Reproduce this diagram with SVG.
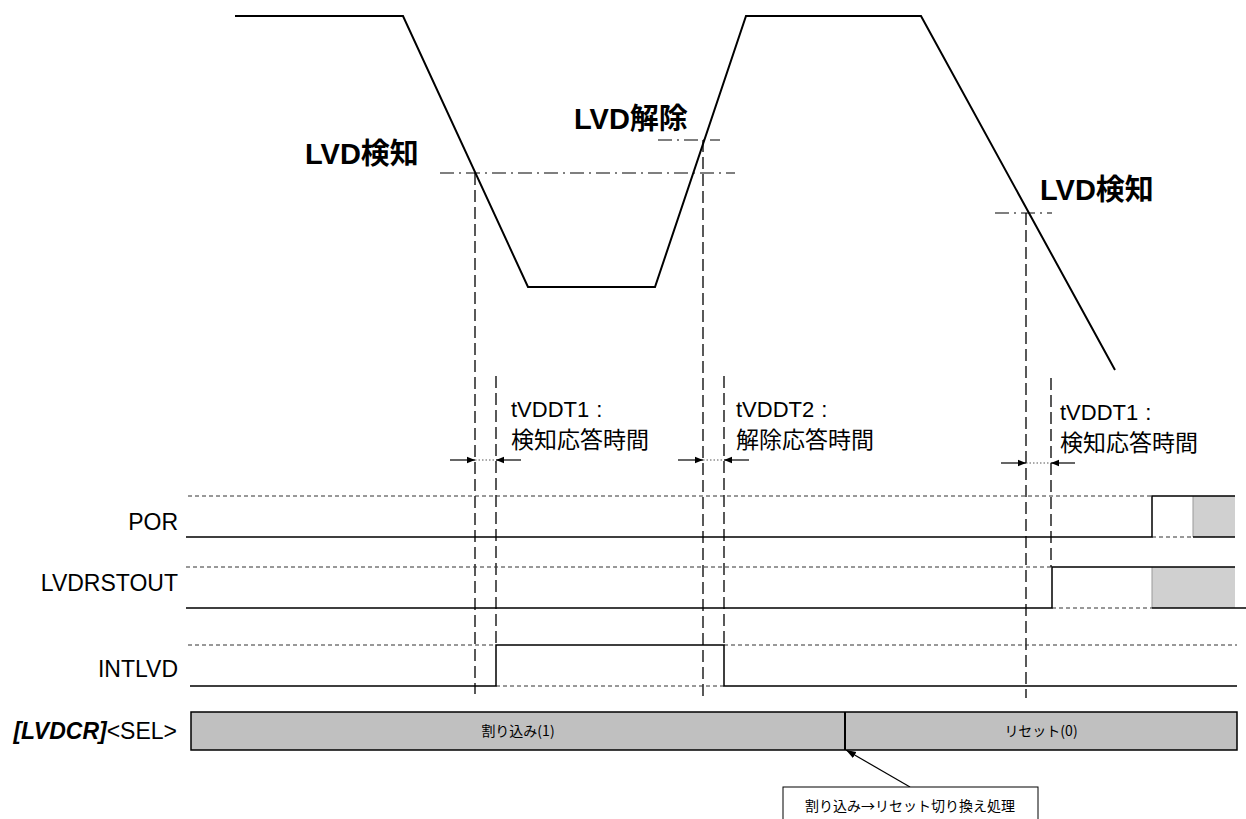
<svg xmlns="http://www.w3.org/2000/svg" width="1246" height="819" viewBox="0 0 1246 819">
<defs>
<marker id="ar" viewBox="0 0 10 10" refX="10" refY="5" markerWidth="8" markerHeight="8" markerUnits="userSpaceOnUse" orient="auto"><path d="M0,1 L10,5 L0,9 Z" fill="#000"/></marker>
<marker id="ar2" viewBox="0 0 10 10" refX="10" refY="5" markerWidth="10" markerHeight="10" markerUnits="userSpaceOnUse" orient="auto"><path d="M0,1.5 L10,5 L0,8.5 Z" fill="#000"/></marker>
</defs>
<style>
text{font-family:"Liberation Sans","Noto Sans CJK JP",sans-serif;fill:#000}
.big{font-size:29px;font-weight:bold}
.t{font-size:22px}
.t2{font-size:23px}
.lbl{font-size:23px;text-anchor:end}
.sm{font-family:"Noto Sans CJK JP","Liberation Sans",sans-serif;font-size:14px;text-anchor:middle}
.wave{fill:none;stroke:#000;stroke-width:2}
.sig{fill:none;stroke:#000;stroke-width:1.5}
.dot{fill:none;stroke:#333;stroke-width:1;stroke-dasharray:4 3}
.vd{fill:none;stroke:#000;stroke-width:1.3;stroke-dasharray:12 5}
.dd{fill:none;stroke:#000;stroke-width:1.2;stroke-dasharray:14 5 2 5}
.fine{fill:none;stroke:#555;stroke-width:1;stroke-dasharray:1.5 2}
.arr{fill:none;stroke:#000;stroke-width:1.2}
</style>
<rect width="1246" height="819" fill="#fff"/>
<g id="vdd-wave">
<polyline class="wave" points="235,16 403,16 528,287 655,287 746,16 921,16 1115,370"/>
</g>
<g id="thresholds">
<line class="dd" x1="440" y1="173" x2="735" y2="173"/>
<line class="dd" x1="658" y1="140" x2="720" y2="140"/>
<line class="dd" x1="995" y1="213" x2="1052" y2="213"/>
</g>
<g id="labels-lvd">
<text class="big" x="305" y="164">LVD検知</text>
<text class="big" x="574" y="129">LVD解除</text>
<text class="big" x="1040" y="200">LVD検知</text>
</g>
<g id="connectors">
<line class="vd" x1="475" y1="173" x2="475" y2="694"/>
<line class="vd" x1="496" y1="376" x2="496" y2="645"/>
<line class="vd" x1="703" y1="140" x2="703" y2="698"/>
<line class="vd" x1="724" y1="376" x2="724" y2="645"/>
<line class="vd" x1="1026" y1="213" x2="1026" y2="698"/>
<line class="vd" x1="1051" y1="378" x2="1051" y2="567"/>
<line class="arr" x1="450" y1="460" x2="475" y2="460" marker-end="url(#ar)"/>
<line class="fine" x1="475" y1="460" x2="496" y2="460"/>
<line class="arr" x1="521" y1="460" x2="496" y2="460" marker-end="url(#ar)"/>
<line class="arr" x1="678" y1="460" x2="703" y2="460" marker-end="url(#ar)"/>
<line class="fine" x1="703" y1="460" x2="724" y2="460"/>
<line class="arr" x1="749" y1="460" x2="724" y2="460" marker-end="url(#ar)"/>
<line class="arr" x1="1001" y1="463" x2="1026" y2="463" marker-end="url(#ar)"/>
<line class="fine" x1="1026" y1="463" x2="1051" y2="463"/>
<line class="arr" x1="1075" y1="463" x2="1051" y2="463" marker-end="url(#ar)"/>
<line class="arr" x1="910" y1="787" x2="846" y2="750" marker-end="url(#ar2)"/>
</g>
<g id="timing-text">
<text class="t" x="511" y="417">tVDDT1<tspan dx="7">:</tspan></text>
<text class="t2" x="511" y="448">検知応答時間</text>
<text class="t" x="736" y="417">tVDDT2<tspan dx="7">:</tspan></text>
<text class="t2" x="736" y="448">解除応答時間</text>
<text class="t" x="1060" y="420">tVDDT1<tspan dx="7">:</tspan></text>
<text class="t2" x="1060" y="451">検知応答時間</text>
</g>
<g id="POR">
<text class="lbl" x="178" y="530">POR</text>
<rect x="1193" y="496" width="42" height="41" fill="#d0d0d0"/>
<line x1="1193" y1="496" x2="1193" y2="537" stroke="#999" stroke-width="1"/>
<line class="dot" x1="188" y1="496" x2="1152" y2="496"/>
<line class="dot" x1="1152" y1="537" x2="1193" y2="537"/>
<polyline class="sig" points="186,537 1152,537 1152,496 1235,496"/>
<line class="sig" x1="1193" y1="537" x2="1235" y2="537"/>
</g>
<g id="LVDRSTOUT">
<text class="lbl" x="178" y="591">LVDRSTOUT</text>
<rect x="1152" y="567" width="83" height="41" fill="#d0d0d0"/>
<line x1="1152" y1="567" x2="1152" y2="608" stroke="#999" stroke-width="1"/>
<line class="dot" x1="186" y1="567" x2="1052" y2="567"/>
<line class="dot" x1="1052" y1="608" x2="1152" y2="608"/>
<polyline class="sig" points="186,608 1052,608 1052,567 1235,567"/>
<line class="sig" x1="1152" y1="608" x2="1246" y2="608"/>
</g>
<g id="INTLVD">
<text class="lbl" x="178" y="677">INTLVD</text>
<line class="dot" x1="188" y1="645" x2="496" y2="645"/>
<line class="dot" x1="724" y1="645" x2="1237" y2="645"/>
<line class="dot" x1="496" y1="686" x2="724" y2="686"/>
<polyline class="sig" points="190,686 496,686 496,645 724,645 724,686 1237,686"/>
</g>
<g id="SEL">
<text x="177" y="739" style="font-size:23px;text-anchor:end"><tspan style="font-weight:bold;font-style:italic">[LVDCR]</tspan>&lt;SEL&gt;</text>
<rect x="191" y="712" width="1046" height="38" fill="#c0c0c0" stroke="#000" stroke-width="1.5"/>
<line x1="845" y1="712" x2="845" y2="750" stroke="#000" stroke-width="2"/>
<text class="sm" x="518" y="736">割り込み(1)</text>
<text class="sm" x="1041" y="736">リセット(0)</text>
</g>
<g id="switch-note">
<rect x="783" y="787" width="255" height="45" fill="#fff" stroke="#000" stroke-width="1"/>
<text class="sm" x="910" y="811">割り込み→リセット切り換え処理</text>
</g>
</svg>
